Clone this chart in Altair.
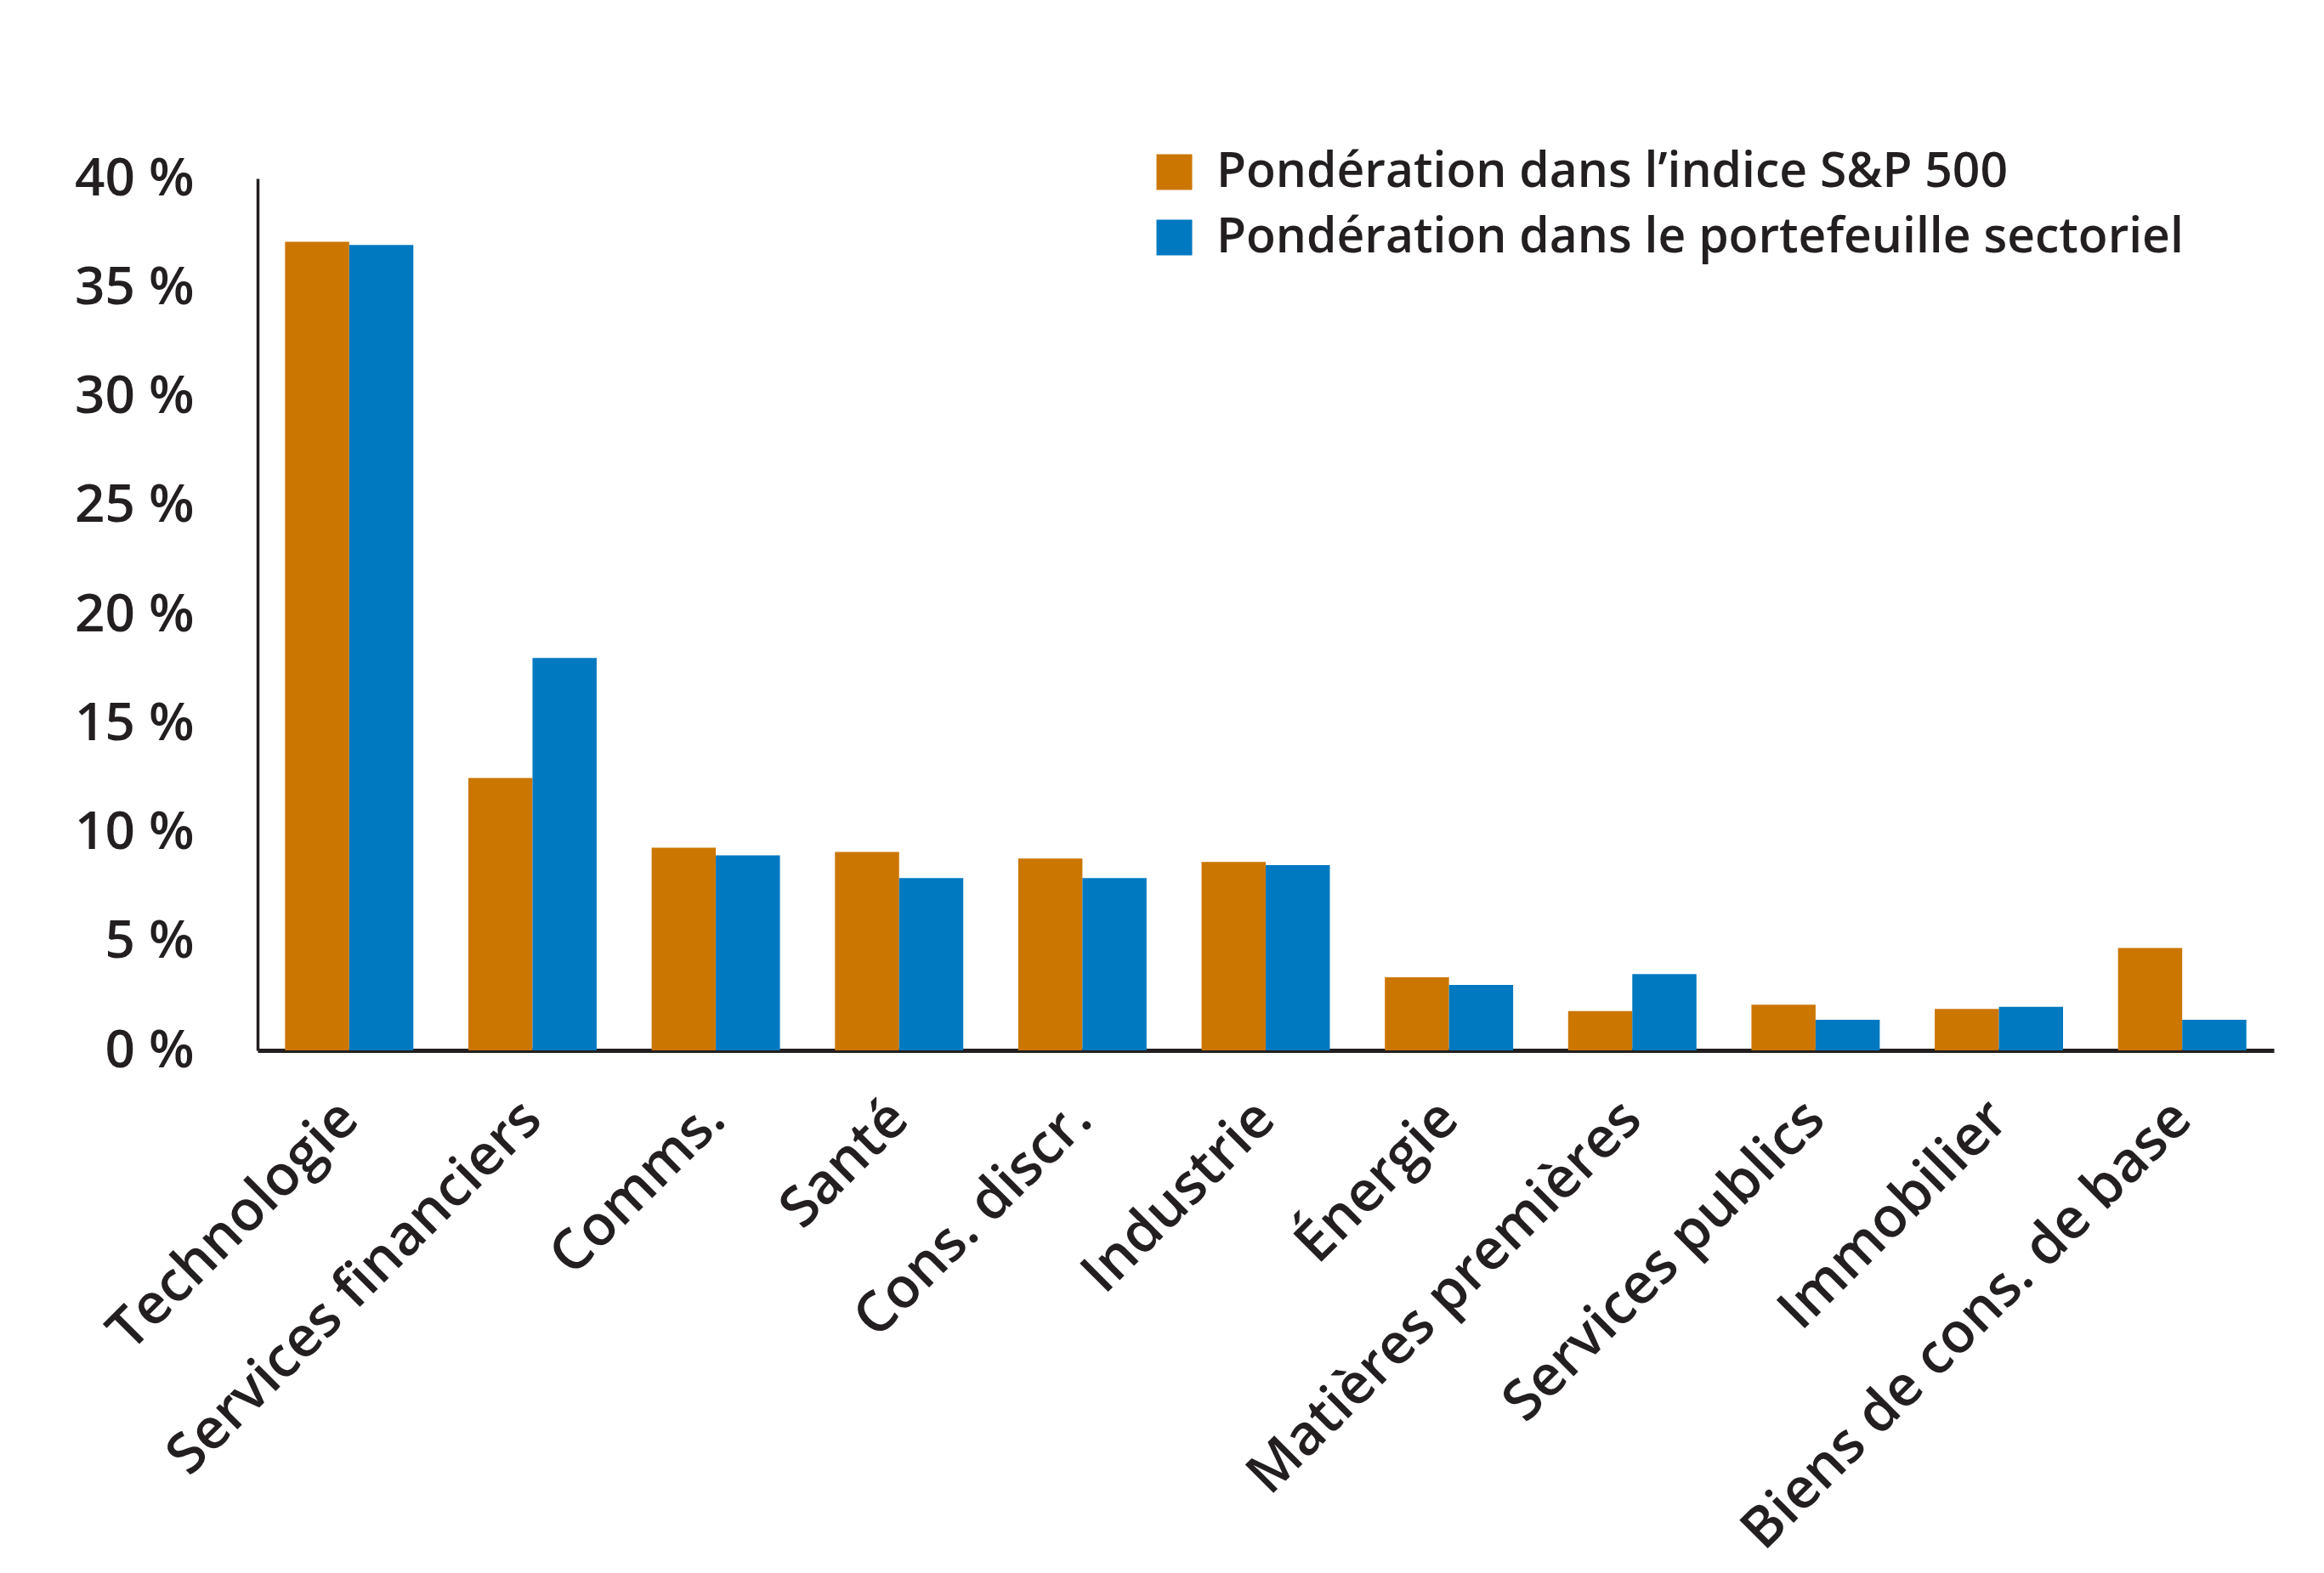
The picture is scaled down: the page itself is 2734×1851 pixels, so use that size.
import altair as alt
import pandas as pd

categories = ["Technologie", "Services financiers", "Comms.", "Santé", "Cons. discr.",
              "Industrie", "Énergie", "Matières premières", "Services publics",
              "Immobilier", "Biens de cons. de base"]
sp500 = [37.1, 12.5, 9.3, 9.1, 8.8, 8.65, 3.35, 1.8, 2.1, 1.9, 4.7]
portfolio = [36.95, 18.0, 8.95, 7.9, 7.9, 8.5, 3.0, 3.5, 1.4, 2.0, 1.4]
series = ["Pondération dans l’indice S&P 500", "Pondération dans le portefeuille sectoriel"]
colors = ["#CC7602", "#0079C1"]
y_ticks = [0, 5, 10, 15, 20, 25, 30, 35, 40]

rows = []
for c, a, b in zip(categories, sp500, portfolio):
    rows.append({"cat": c, "serie": series[0], "val": a})
    rows.append({"cat": c, "serie": series[1], "val": b})
df = pd.DataFrame(rows)

FONT = "Open Sans"
TXT = "#231f20"
W = 600

chart = alt.Chart(df).mark_bar().encode(
    x=alt.X("cat:N", sort=categories, title=None,
            scale=alt.Scale(paddingInner=0.3, paddingOuter=0.15),
            axis=alt.Axis(labelAngle=-45, labelAlign="right", labelBaseline="middle",
                          labelPadding=70, labelFontSize=66, labelFont=FONT,
                          labelFontWeight=W,
                          labelColor=TXT, labelLimit=2000, ticks=False,
                          domainColor=TXT, domainWidth=5)),
    xOffset=alt.XOffset("serie:N", sort=series),
    y=alt.Y("val:Q", title=None,
            scale=alt.Scale(domain=[0, 40], nice=False),
            axis=alt.Axis(values=y_ticks, labelExpr="datum.value + ' %'",
                          labelFontSize=62, labelFont=FONT, labelColor=TXT,
                          labelFontWeight=W,
                          labelPadding=75, ticks=False, grid=False,
                          domainColor=TXT, domainWidth=3.5)),
    color=alt.Color("serie:N", sort=series,
                    scale=alt.Scale(domain=series, range=colors),
                    legend=alt.Legend(orient="none", legendX=1050, legendY=-36,
                                      title=None, symbolType="square",
                                      symbolSize=1764, symbolStrokeWidth=0,
                                      symbolOpacity=1,
                                      labelFontSize=57, labelFont=FONT,
                                      labelFontWeight=W,
                                      labelColor=TXT, labelLimit=3000,
                                      rowPadding=19, labelOffset=21)),
).properties(
    width=2372, height=1026,
    autosize=alt.AutoSizeParams(type="none"),
    padding={"left": 295, "top": 202, "right": 51, "bottom": 607},
    background="white",
).configure_view(stroke=None)

chart.save("out.html", embed_options={"renderer": "svg", "actions": False})
